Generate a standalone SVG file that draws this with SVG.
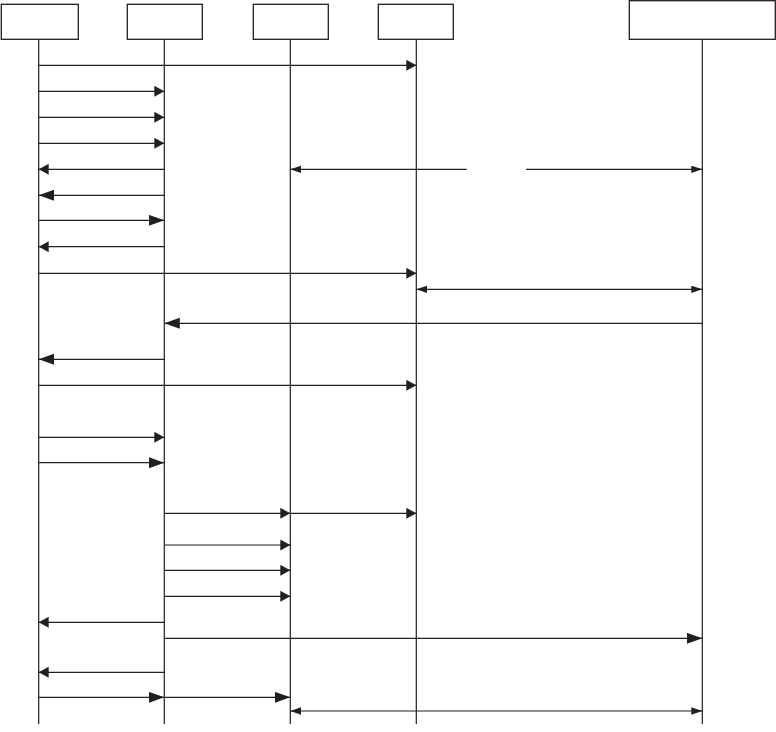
<svg xmlns="http://www.w3.org/2000/svg" width="776" height="732" viewBox="0 0 776 732">
<defs>
<style>
.box{fill:#fff;stroke:#231f20;stroke-width:1.3}
.life{stroke:#231f20;stroke-width:1.2;fill:none}
.msg{stroke:#231f20;stroke-width:1.2;fill:none}
.s{marker-end:url(#sm)}
.l{marker-end:url(#lg)}
.d{marker-start:url(#tn);marker-end:url(#tn)}
</style>
<marker id="sm" markerUnits="userSpaceOnUse" markerWidth="11" markerHeight="12" refX="10" refY="5.5" orient="auto" viewBox="0 0 11 12"><path d="M0,0 L10,5.5 L0,11 z" fill="#231f20"/></marker>
<marker id="lg" markerUnits="userSpaceOnUse" markerWidth="16" markerHeight="12" refX="15.5" refY="5.5" orient="auto" viewBox="0 0 16 12"><path d="M0,0 L15.5,5.5 L0,11 z" fill="#231f20"/></marker>
<marker id="tn" markerUnits="userSpaceOnUse" markerWidth="12" markerHeight="8" refX="11" refY="3.75" orient="auto-start-reverse" viewBox="0 0 12 8"><path d="M0,0 L11,3.75 L0,7.5 z" fill="#231f20"/></marker>
</defs>
<rect width="776" height="732" fill="#fff"/>
<g id="node1"><rect class="box" x="1.3" y="4.3" width="77" height="35"/><line class="life" x1="38.7" y1="39.3" x2="38.7" y2="724"/></g>
<g id="node2"><rect class="box" x="127.3" y="4.3" width="75" height="35"/><line class="life" x1="164.3" y1="39.3" x2="164.3" y2="724"/></g>
<g id="node3"><rect class="box" x="253.3" y="4.3" width="75" height="35"/><line class="life" x1="290.3" y1="39.3" x2="290.3" y2="724"/></g>
<g id="node4"><rect class="box" x="378.3" y="4.3" width="75" height="35"/><line class="life" x1="416.3" y1="39.3" x2="416.3" y2="724"/></g>
<g id="node5"><rect class="box" x="629.3" y="0.7" width="146" height="38.6"/><line class="life" x1="702.3" y1="39.3" x2="702.3" y2="724"/></g>
<g id="connectors">
<line class="msg s" x1="38.7" y1="65.3" x2="416.3" y2="65.3"/>
<line class="msg s" x1="38.7" y1="91.3" x2="164.3" y2="91.3"/>
<line class="msg s" x1="38.7" y1="117.3" x2="164.3" y2="117.3"/>
<line class="msg s" x1="38.7" y1="143.3" x2="164.3" y2="143.3"/>
<line class="msg s" x1="164.3" y1="169.3" x2="38.7" y2="169.3"/>
<line class="msg" x1="290.3" y1="169.3" x2="466.7" y2="169.3" style="marker-start:url(#tn)"/>
<line class="msg" x1="526" y1="169.3" x2="702.3" y2="169.3" style="marker-end:url(#tn)"/>
<line class="msg l" x1="164.3" y1="195.3" x2="38.7" y2="195.3"/>
<line class="msg l" x1="38.7" y1="220.3" x2="164.3" y2="220.3"/>
<line class="msg s" x1="164.3" y1="246.7" x2="38.7" y2="246.7"/>
<line class="msg s" x1="38.7" y1="273.3" x2="416.3" y2="273.3"/>
<line class="msg d" x1="416.3" y1="289.3" x2="702.3" y2="289.3"/>
<line class="msg l" x1="702.3" y1="323.3" x2="164.3" y2="323.3"/>
<line class="msg l" x1="164.3" y1="359.3" x2="38.7" y2="359.3"/>
<line class="msg s" x1="38.7" y1="385.3" x2="416.3" y2="385.3"/>
<line class="msg s" x1="38.7" y1="437.3" x2="164.3" y2="437.3"/>
<line class="msg l" x1="38.7" y1="462.7" x2="164.3" y2="462.7"/>
<line class="msg s" x1="164.3" y1="513.3" x2="290.3" y2="513.3"/>
<line class="msg s" x1="290.3" y1="513.3" x2="416.3" y2="513.3"/>
<line class="msg s" x1="164.3" y1="545" x2="290.3" y2="545"/>
<line class="msg s" x1="164.3" y1="570.3" x2="290.3" y2="570.3"/>
<line class="msg s" x1="164.3" y1="596.3" x2="290.3" y2="596.3"/>
<line class="msg s" x1="164.3" y1="622.3" x2="38.7" y2="622.3"/>
<line class="msg l" x1="164.3" y1="638.3" x2="702.3" y2="638.3"/>
<line class="msg s" x1="164.3" y1="672.3" x2="38.7" y2="672.3"/>
<line class="msg l" x1="38.7" y1="697.3" x2="164.3" y2="697.3"/>
<line class="msg l" x1="164.3" y1="697.3" x2="290.3" y2="697.3"/>
<line class="msg d" x1="290.3" y1="711" x2="702.3" y2="711"/>
</g>
</svg>
